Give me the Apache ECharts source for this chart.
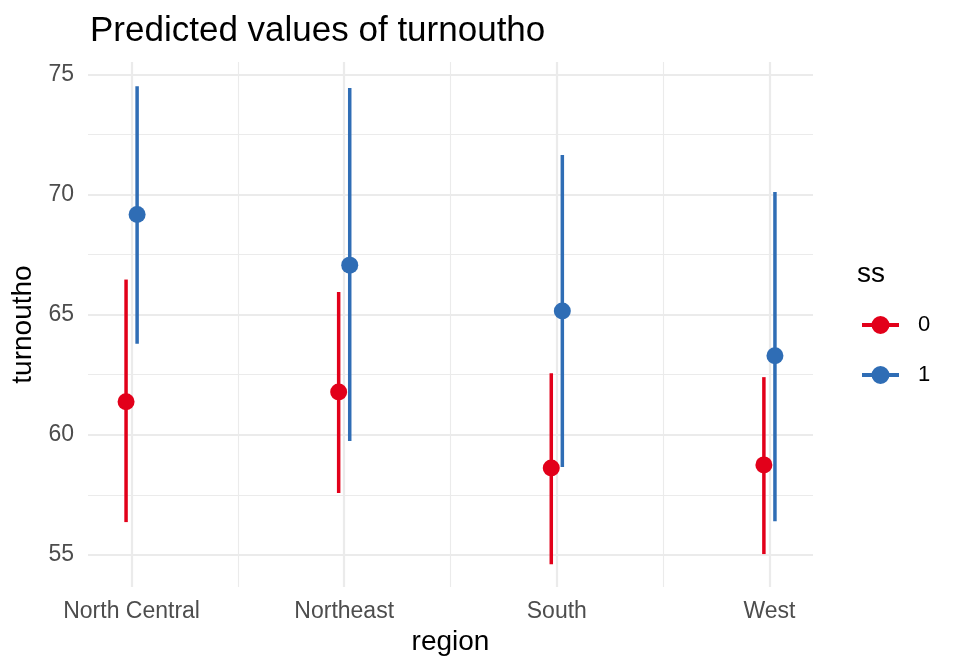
<!DOCTYPE html>
<html>
<head>
<meta charset="utf-8">
<script src="https://cdn.jsdelivr.net/npm/echarts@6/dist/echarts.min.js"></script>
<style>
  html, body { margin: 0; padding: 0; background: #fff; }
  #main { width: 960px; height: 672px; }
</style>
</head>
<body>
<div id="main"></div>
<script>
var regions = ['North Central', 'Northeast', 'South', 'West'];

// ss = 0
var pred0 = [61.38, 61.78, 58.62, 58.75];
var low0  = [56.37, 57.58, 54.62, 55.04];
var high0 = [66.46, 65.94, 62.56, 62.40];

// ss = 1
var pred1 = [69.17, 67.06, 65.15, 63.29];
var low1  = [63.79, 59.74, 58.66, 56.41];
var high1 = [74.50, 74.43, 71.64, 70.10];

var yTicks = [55, 60, 65, 70, 75];
var yMinor = [57.5, 62.5, 67.5, 72.5];
var xTicks = [1, 2, 3, 4];
var xMinor = [1.5, 2.5, 3.5];

var red = '#E2001A';
var blue = '#2F6DB5';
var dodge = 0.026;
var font = 'Liberation Sans, Arial, Helvetica, sans-serif';

var myChart = echarts.init(document.getElementById('main'));

function barData(low, high, off) {
    return low.map(function (v, i) { return [i + 1 + off, v, high[i]]; });
}
function pointData(pred, off) {
    return pred.map(function (v, i) { return [i + 1 + off, v]; });
}
function renderBar(params, api) {
    var p1 = api.coord([api.value(0), api.value(1)]);
    var p2 = api.coord([api.value(0), api.value(2)]);
    return {
        type: 'line',
        shape: { x1: p1[0], y1: p1[1], x2: p2[0], y2: p2[1] },
        style: { stroke: api.visual('color'), lineWidth: 3.5 }
    };
}

// grid lines (theme_minimal look)
var gridLines = [];
yTicks.forEach(function (v) { gridLines.push({ yAxis: v, lineStyle: { width: 2.2 } }); });
yMinor.forEach(function (v) { gridLines.push({ yAxis: v, lineStyle: { width: 1.1 } }); });
xTicks.forEach(function (v) { gridLines.push({ xAxis: v, lineStyle: { width: 2.2 } }); });
xMinor.forEach(function (v) { gridLines.push({ xAxis: v, lineStyle: { width: 1.1 } }); });

var legendIcon = 'path://M0,7 L37,7 L37,11 L0,11 Z M9.5,9 A9,9 0 1,1 27.5,9 A9,9 0 1,1 9.5,9 Z';

option = {
    animation: false,
    title: [{
        text: 'Predicted values of turnoutho',
        left: 90,
        top: 14,
        padding: 0,
        textStyle: { fontFamily: font, fontSize: 35, fontWeight: 'normal', color: '#000' }
    }, {
        text: 'ss',
        left: 857,
        top: 260,
        padding: 0,
        textStyle: { fontFamily: font, fontSize: 28, fontWeight: 'normal', color: '#000' }
    }],
    legend: {
        data: ['0', '1'],
        orient: 'vertical',
        left: 862,
        top: 314,
        padding: 0,
        itemWidth: 37,
        itemHeight: 18,
        itemGap: 28,
        icon: legendIcon,
        textStyle: { fontFamily: font, fontSize: 22, color: '#000', padding: [0, 0, 0, 14] }
    },
    grid: {
        left: 88,
        top: 62,
        width: 725,
        height: 525
    },
    xAxis: {
        type: 'value',
        min: 0.795,
        max: 4.205,
        name: 'region',
        nameLocation: 'middle',
        nameGap: 41,
        nameTextStyle: { fontFamily: font, fontSize: 28, color: '#000', verticalAlign: 'top' },
        axisLine: { show: false },
        axisTick: { show: false },
        splitLine: { show: false },
        axisLabel: {
            customValues: xTicks,
            margin: 13,
            fontFamily: font,
            fontSize: 23,
            color: '#4D4D4D',
            formatter: function (v) { return regions[Math.round(v) - 1]; }
        }
    },
    yAxis: {
        type: 'value',
        min: 53.67,
        max: 75.51,
        name: 'turnoutho',
        nameLocation: 'middle',
        nameGap: 49,
        nameRotate: 90,
        nameTextStyle: { fontFamily: font, fontSize: 28, color: '#000' },
        axisLine: { show: false },
        axisTick: { show: false },
        splitLine: { show: false },
        axisLabel: {
            customValues: yTicks,
            margin: 14,
            fontFamily: font,
            fontSize: 23,
            color: '#4D4D4D'
        }
    },
    series: [
        {
            name: 'grid',
            type: 'line',
            data: [],
            z: 0,
            silent: true,
            markLine: {
                silent: true,
                z: 0,
                symbol: 'none',
                label: { show: false },
                lineStyle: { color: '#EBEBEB', type: 'solid' },
                data: gridLines
            }
        },
        {
            name: '0',
            type: 'scatter',
            symbolSize: 17,
            itemStyle: { color: red, opacity: 1, borderWidth: 0 },
            zlevel: 1,
            z: 4,
            data: pointData(pred0, -dodge)
        },
        {
            name: '0',
            type: 'custom',
            renderItem: renderBar,
            itemStyle: { color: red },
            encode: { x: 0, y: [1, 2] },
            z: 3,
            data: barData(low0, high0, -dodge)
        },
        {
            name: '1',
            type: 'scatter',
            symbolSize: 17,
            itemStyle: { color: blue, opacity: 1, borderWidth: 0 },
            zlevel: 1,
            z: 4,
            data: pointData(pred1, dodge)
        },
        {
            name: '1',
            type: 'custom',
            renderItem: renderBar,
            itemStyle: { color: blue },
            encode: { x: 0, y: [1, 2] },
            z: 3,
            data: barData(low1, high1, dodge)
        }
    ]
};

myChart.setOption(option);
</script>
</body>
</html>
